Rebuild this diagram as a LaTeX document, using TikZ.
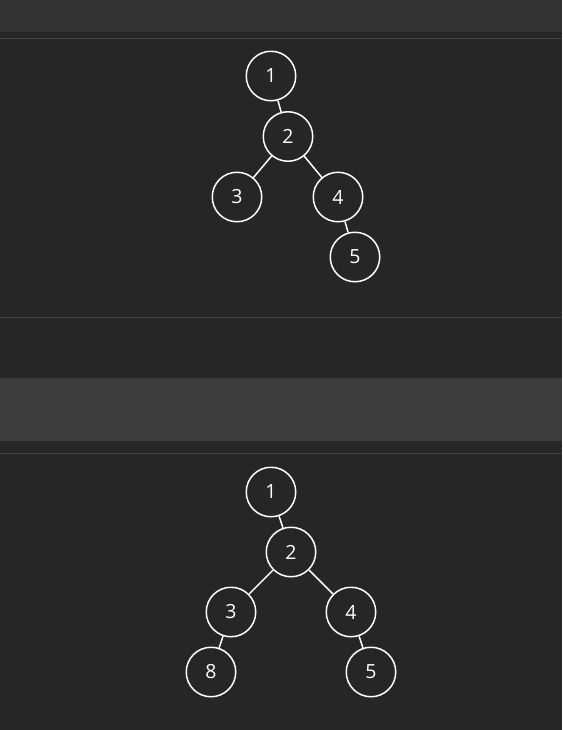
\documentclass[tikz,border=0pt]{standalone}
\usepackage{fontspec}
\setmainfont{Open Sans}
\definecolor{bgdark}{HTML}{262626}
\definecolor{bgband}{HTML}{333333}
\definecolor{bgbandtwo}{HTML}{3C3C3C}
\definecolor{rulegray}{HTML}{414141}
\begin{document}
\begin{tikzpicture}[scale=0.3515]
\tikzstyle{every node}+=[inner sep=0pt]
\tikzstyle{treenode}=[circle, draw=white, line width=1.5pt, minimum size=49.5pt, text=white, font=\fontsize{19.5}{21}\selectfont]
\tikzstyle{treeedge}=[white, line width=1.5pt]
\useasboundingbox (0,0) rectangle (56.2,-73);
% panels
\fill [bgdark] (0,0) rectangle (56.2,-73);
\fill [bgband] (0,0) rectangle (56.2,-3.2);
\fill [bgbandtwo] (0,-37.8) rectangle (56.2,-44.1);
\draw [rulegray, line width=1pt] (0,-3.83) -- (56.2,-3.83);
\draw [rulegray, line width=1pt] (0,-31.72) -- (56.2,-31.72);
\draw [rulegray, line width=1pt] (0,-45.33) -- (56.2,-45.33);
% first tree
\draw (27.1,-7.6) node [treenode] (ta1) {\raisebox{-1pt}{1}};
\draw (28.8,-13.65) node [treenode] (ta2) {\raisebox{-1pt}{2}};
\draw (23.7,-19.7) node [treenode] (ta3) {\raisebox{-1pt}{3}};
\draw (33.8,-19.7) node [treenode] (ta4) {\raisebox{-1pt}{4}};
\draw (35.5,-25.7) node [treenode] (ta5) {\raisebox{-1pt}{5}};
\draw [treeedge] (ta1) -- (ta2);
\draw [treeedge] (ta2) -- (ta3);
\draw [treeedge] (ta2) -- (ta4);
\draw [treeedge] (ta4) -- (ta5);
% second tree
\draw (27.1,-49.2) node [treenode] (tb1) {\raisebox{-1pt}{1}};
\draw (29.1,-55.2) node [treenode] (tb2) {\raisebox{-1pt}{2}};
\draw (23.1,-61.2) node [treenode] (tb3) {\raisebox{-1pt}{3}};
\draw (35.1,-61.2) node [treenode] (tb4) {\raisebox{-1pt}{4}};
\draw (21.1,-67.2) node [treenode] (tb8) {\raisebox{-1pt}{8}};
\draw (37.1,-67.2) node [treenode] (tb5) {\raisebox{-1pt}{5}};
\draw [treeedge] (tb1) -- (tb2);
\draw [treeedge] (tb2) -- (tb3);
\draw [treeedge] (tb2) -- (tb4);
\draw [treeedge] (tb3) -- (tb8);
\draw [treeedge] (tb4) -- (tb5);
\end{tikzpicture}
\end{document}
